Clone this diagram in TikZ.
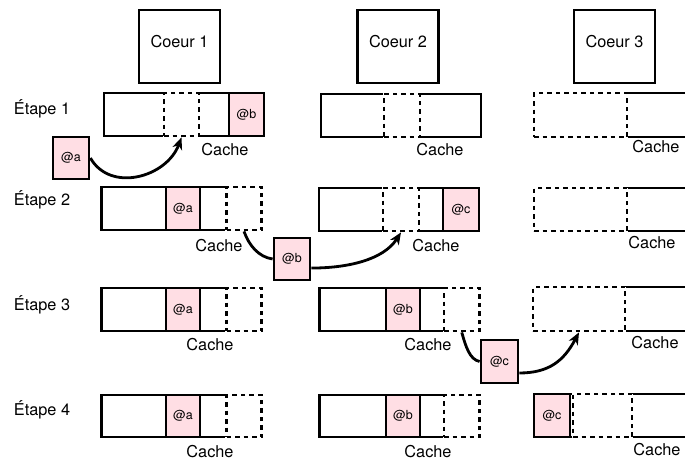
\documentclass[tikz,border=0pt]{standalone}
\usepackage{fontspec}
\setmainfont{TeX Gyre Heros}
\usetikzlibrary{arrows.meta}
\definecolor{pinkfill}{RGB}{255,222,228}
\begin{document}
\begin{tikzpicture}[x=1pt,y=-1pt,
  cache/.style={draw, line width=2.8pt, minimum width=160pt, minimum height=43pt, inner sep=0pt},
  dcell/.style={draw, dash pattern=on 4.5pt off 4pt, line width=2.8pt, minimum height=43pt, inner sep=0pt,
                preaction={draw=white, solid, fill=white}},
  pcell/.style={draw, fill=pinkfill, line width=2.8pt, minimum height=43pt, inner sep=0pt,
                font=\fontsize{12.5}{14}\selectfont},
  mov/.style={pcell, minimum width=36pt, minimum height=42pt},
  core/.style={draw, line width=2.3pt, minimum width=81pt, minimum height=73pt, inner sep=0pt},
  lbl/.style={font=\fontsize{16.3}{18}\selectfont, inner sep=0pt, text height=11.7pt, text depth=0pt},
  conn/.style={line width=2.8pt},
  arr/.style={line width=2.8pt, -{Stealth[length=12pt,width=10pt,inset=3.5pt]}}]
\path[use as bounding box, clip] (0,0) rectangle (685,460);

% cores
\node[core] (c1) at (179.5,46.5) {};
\node[core] (c2) at (398,46.5) {};
\node[core] (c3) at (614.5,46.5) {};
\node[lbl] (c1t) at (179.5,42) {Coeur 1};
\node[lbl] (c2t) at (398,42) {Coeur 2};
\node[lbl] (c3t) at (614.5,42) {Coeur 3};

% step labels
\node[lbl] (e1) at (42,109) {Étape 1};
\node[lbl] (e2) at (42,200) {Étape 2};
\node[lbl] (e3) at (42,305) {Étape 3};
\node[lbl] (e4) at (42,410) {Étape 4};

% row 1
\node[cache] (k11) at (184,114.5) {};
\node[dcell, minimum width=35pt] (k11d) at (181.5,114.5) {};
\node[pcell, minimum width=35pt] (k11p) at (246.5,114.5) {@b};
\node[cache] (k12) at (401,115.5) {};
\node[dcell, minimum width=36pt] (k12d) at (402,115.5) {};
\node[cache, minimum height=44pt] (k13) at (614,115) {};
\node[dcell, minimum width=93pt, minimum height=44pt] (k13d) at (580.5,115) {};

% row 2
\node[cache] (k21) at (181.5,208.5) {};
\node[pcell, minimum width=34pt] (k21p) at (183,208.5) {@a};
\node[dcell, minimum width=35pt] (k21d) at (244,208.5) {};
\node[cache] (k22) at (399,209.5) {};
\node[dcell, minimum width=36pt] (k22d) at (401,209.5) {};
\node[pcell, minimum width=36pt] (k22p) at (461,209.5) {@c};
\node[cache] (k23) at (614,209.5) {};
\node[dcell, minimum width=93pt] (k23d) at (580.5,209.5) {};

% row 3
\node[cache] (k31) at (181.5,309.5) {};
\node[pcell, minimum width=34pt] (k31p) at (183,309.5) {@a};
\node[dcell, minimum width=35pt] (k31d) at (244,309.5) {};
\node[cache] (k32) at (399.5,309.5) {};
\node[pcell, minimum width=34pt] (k32p) at (403,309.5) {@b};
\node[dcell, minimum width=35.5pt] (k32d) at (461.75,309.5) {};
\node[cache, minimum height=44pt] (k33) at (613,309) {};
\node[dcell, minimum width=92pt, minimum height=44pt] (k33d) at (579,309) {};

% row 4
\node[cache, minimum height=42pt] (k41) at (181.5,416) {};
\node[pcell, minimum width=34pt, minimum height=42pt] (k41p) at (183,416) {@a};
\node[dcell, minimum width=35pt, minimum height=42pt] (k41d) at (244,416) {};
\node[cache, minimum height=42pt] (k42) at (399.5,416) {};
\node[pcell, minimum width=34pt, minimum height=42pt] (k42p) at (403,416) {@b};
\node[dcell, minimum width=35.5pt, minimum height=42pt] (k42d) at (461.75,416) {};
\node[cache] (k43) at (614,415.5) {};
\node[dcell, minimum width=59pt] (k43d) at (602.5,415.5) {};
\node[pcell, minimum width=36pt] (k43p) at (552,415.5) {@c};

% cache labels
\node[lbl] (l11) at (225,150) {Cache};
\node[lbl] (l12) at (440,150) {Cache};
\node[lbl] (l13) at (656,147) {Cache};
\node[lbl] (l21) at (219,246) {Cache};
\node[lbl] (l22) at (436,246) {Cache};
\node[lbl] (l23) at (652,243) {Cache};
\node[lbl] (l31) at (210,345) {Cache};
\node[lbl] (l32) at (428,345) {Cache};
\node[lbl] (l33) at (655,343) {Cache};
\node[lbl] (l41) at (210,451.5) {Cache};
\node[lbl] (l42) at (428,451.5) {Cache};
\node[lbl] (l43) at (657,449.5) {Cache};

% moving blocks
\node[mov] (ma) at (71,158) {@a};
\node[mov] (mb) at (292,259) {@b};
\node[mov, minimum width=37pt, minimum height=43pt] (mc) at (499.5,361.5) {@c};

% connectors
\draw[arr] (ma.east) .. controls +(20,35) and +(-15,40) .. (k11d.south);
\draw[conn] (k21d.south) .. controls +(5,14) and +(-14,-2) .. (mb.west);
\draw[arr] (mb.-25) .. controls +(35,0) and +(-18,28) .. (k22d.south);
\draw[conn] (k32d.south) .. controls +(4,14) and +(-10,-2) .. (mc.west);
\draw[arr] (mc.-30) .. controls +(30,0) and +(-15,28) .. (k33d.south);
\end{tikzpicture}
\end{document}
